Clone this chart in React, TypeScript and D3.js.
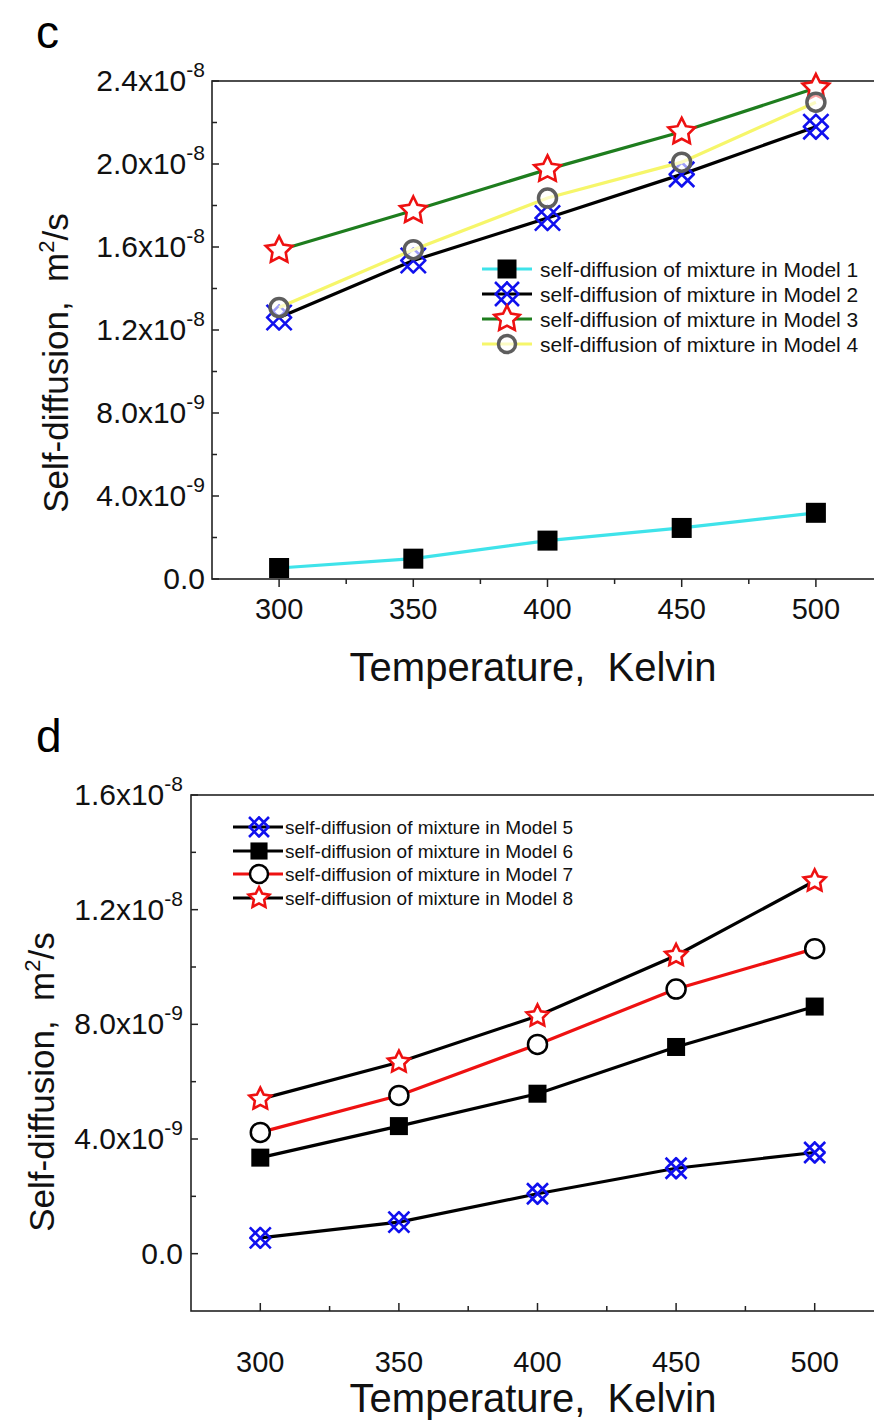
import React from 'react';
import * as d3 from 'd3';

const temps = [300, 350, 400, 450, 500];
const model1 = [0.53e-9, 0.98e-9, 1.85e-9, 2.46e-9, 3.19e-9];
const model2 = [1.26e-8, 1.535e-8, 1.74e-8, 1.95e-8, 2.18e-8];
const model3 = [1.584e-8, 1.776e-8, 1.974e-8, 2.155e-8, 2.366e-8];
const model4 = [1.308e-8, 1.587e-8, 1.836e-8, 2.009e-8, 2.298e-8];
const model5 = [0.55e-9, 1.1e-9, 2.09e-9, 2.98e-9, 3.53e-9];
const model6 = [3.35e-9, 4.45e-9, 5.58e-9, 7.21e-9, 8.62e-9];
const model7 = [4.23e-9, 5.52e-9, 7.3e-9, 9.23e-9, 10.64e-9];
const model8 = [5.39e-9, 6.68e-9, 8.29e-9, 10.4e-9, 13.0e-9];

const xTicks = [300, 350, 400, 450, 500];
const xMinor = [325, 375, 425, 475];
const yTicksC = [0, 4e-9, 8e-9, 1.2e-8, 1.6e-8, 2.0e-8, 2.4e-8];
const yMinorC = [2e-9, 6e-9, 1e-8, 1.4e-8, 1.8e-8, 2.2e-8];
const yTicksD = [0, 4e-9, 8e-9, 1.2e-8, 1.6e-8];
const yMinorD = [2e-9, 6e-9, 1e-8, 1.4e-8];

const legendC = [
  'self-diffusion of mixture in Model 1',
  'self-diffusion of mixture in Model 2',
  'self-diffusion of mixture in Model 3',
  'self-diffusion of mixture in Model 4',
];
const legendD = [
  'self-diffusion of mixture in Model 5',
  'self-diffusion of mixture in Model 6',
  'self-diffusion of mixture in Model 7',
  'self-diffusion of mixture in Model 8',
];

const FONT = "'Liberation Sans', Arial, sans-serif";

type Marker = 'square' | 'hatch' | 'star' | 'circle';
interface Series {
  values: number[];
  line: string;
  marker: Marker;
  mColor: string;
  mFill: string;
  size: number;
}

const seriesC: Series[] = [
  { values: model1, line: '#3fe3ea', marker: 'square', mColor: '#000', mFill: '#000', size: 20 },
  { values: model2, line: '#000', marker: 'hatch', mColor: '#1010ee', mFill: 'none', size: 24 },
  { values: model3, line: '#1e7d1e', marker: 'star', mColor: '#ee1111', mFill: '#fff', size: 14 },
  { values: model4, line: '#f6f66a', marker: 'circle', mColor: '#5e5e5e', mFill: 'rgba(255,255,255,0.6)', size: 9 },
];
const seriesD: Series[] = [
  { values: model5, line: '#000', marker: 'hatch', mColor: '#1010ee', mFill: 'none', size: 20 },
  { values: model6, line: '#000', marker: 'square', mColor: '#000', mFill: '#000', size: 18 },
  { values: model7, line: '#ee1111', marker: 'circle', mColor: '#000', mFill: '#fff', size: 9.5 },
  { values: model8, line: '#000', marker: 'star', mColor: '#ee1111', mFill: '#fff', size: 11.5 },
];

function starPath(R: number) {
  const r = R * 0.5;
  const pts: [number, number][] = [];
  for (let i = 0; i < 10; i++) {
    const a = -Math.PI / 2 + (i * Math.PI) / 5;
    const rr = i % 2 === 0 ? R : r;
    pts.push([rr * Math.cos(a), rr * Math.sin(a)]);
  }
  return d3.line()(pts)! + 'Z';
}

// four small crosses arranged 2x2 -> diamond lattice
function hatchPath(s: number) {
  const a = s / 4;
  const r = a * 1.1;
  const parts: string[] = [];
  for (const cx of [-a, a]) {
    for (const cy of [-a, a]) {
      parts.push(`M${cx - r},${cy - r}L${cx + r},${cy + r}`);
      parts.push(`M${cx - r},${cy + r}L${cx + r},${cy - r}`);
    }
  }
  return parts.join('');
}

function MarkerShape({ s, x, y }: { s: Series; x: number; y: number }) {
  const t = `translate(${x},${y})`;
  if (s.marker === 'square')
    return <rect transform={t} x={-s.size / 2} y={-s.size / 2} width={s.size} height={s.size} fill={s.mFill} />;
  if (s.marker === 'hatch')
    return <path transform={t} d={hatchPath(s.size)} stroke={s.mColor} strokeWidth={2.6} fill="none" />;
  if (s.marker === 'star')
    return <path transform={t} d={starPath(s.size)} stroke={s.mColor} strokeWidth={2.6} fill={s.mFill} strokeLinejoin="miter" />;
  return <circle transform={t} r={s.size} stroke={s.mColor} strokeWidth={s.mColor === '#000' ? 2.5 : 3.5} fill={s.mFill} />;
}

function fmtParts(v: number): [string, string] {
  if (v === 0) return ['0.0', ''];
  const e = Math.floor(Math.log10(v) + 1e-9);
  const m = v / Math.pow(10, e);
  return [m.toFixed(1) + 'x10', String(e)];
}

interface PanelProps {
  x: d3.ScaleLinear<number, number>;
  y: d3.ScaleLinear<number, number>;
  series: Series[];
  yTicks: number[];
  yMinor: number[];
  xTickOut: boolean;
  xLabelY: number;
  titleY: number;
  yLabelEnd: number;
  yTitleX: number;
  yTitleY: number;
  legend: string[];
  legRows: number[];
  legX0: number;
  legX1: number;
  legM: number;
  legText: number;
  legFont: number;
  letter: string;
  letterY: number;
}

function Panel(p: PanelProps) {
  const [x0, x1] = p.x.range();
  const [yb, yt] = p.y.range();
  const lineGen = d3
    .line<number>()
    .x((_, i) => p.x(temps[i]))
    .y((d) => p.y(d));
  const xt = p.xTickOut ? 1 : -1;
  return (
    <g>
      <text x={36} y={p.letterY} fontFamily={FONT} fontSize={46} fill="#000">
        {p.letter}
      </text>
      <rect x={x0} y={yt} width={x1 - x0} height={yb - yt} fill="none" stroke="#222" strokeWidth={1.6} />
      {p.yTicks.map((v) => (
        <line key={'yt' + v} x1={x0} x2={x0 + 7} y1={p.y(v)} y2={p.y(v)} stroke="#222" strokeWidth={1.5} />
      ))}
      {p.yMinor.map((v) => (
        <line key={'ym' + v} x1={x0} x2={x0 + 5} y1={p.y(v)} y2={p.y(v)} stroke="#222" strokeWidth={1.5} />
      ))}
      {xTicks.map((v) => (
        <line key={'xt' + v} x1={p.x(v)} x2={p.x(v)} y1={yb} y2={yb + xt * 8} stroke="#222" strokeWidth={1.5} />
      ))}
      {xMinor.map((v) => (
        <line key={'xm' + v} x1={p.x(v)} x2={p.x(v)} y1={yb} y2={yb + xt * 5} stroke="#222" strokeWidth={1.5} />
      ))}
      {p.yTicks.map((v) => {
        const [a, e] = fmtParts(v);
        return (
          <text key={'yl' + v} x={p.yLabelEnd} y={p.y(v) + 10} textAnchor="end" fontFamily={FONT} fontSize={30} fill="#111">
            {a}
            {e && (
              <tspan fontSize={21} dy={-14}>
                {e}
              </tspan>
            )}
          </text>
        );
      })}
      {xTicks.map((v) => (
        <text key={'xl' + v} x={p.x(v)} y={p.xLabelY} textAnchor="middle" fontFamily={FONT} fontSize={29} fill="#111">
          {v}
        </text>
      ))}
      <text x={533} y={p.titleY} textAnchor="middle" fontFamily={FONT} fontSize={40} fill="#111">
        {'Temperature,\u00a0 Kelvin'}
      </text>
      <text
        transform={`translate(${p.yTitleX},${p.yTitleY}) rotate(-90)`}
        textAnchor="middle"
        fontFamily={FONT}
        fontSize={35}
        fill="#111"
      >
        {'Self-diffusion,\u00a0 m'}
        <tspan fontSize={22} dy={-14}>
          2
        </tspan>
        <tspan dy={14}>/s</tspan>
      </text>
      {p.series.map((s, k) => (
        <g key={'s' + k}>
          <path d={lineGen(s.values)!} fill="none" stroke={s.line} strokeWidth={3.2} />
          {s.values.map((v, i) => (
            <MarkerShape key={i} s={s} x={p.x(temps[i])} y={p.y(v)} />
          ))}
        </g>
      ))}
      {p.legend.map((lab, k) => {
        const s = p.series[k];
        const yy = p.legRows[k];
        return (
          <g key={'lg' + k}>
            <line x1={p.legX0} x2={p.legX1} y1={yy} y2={yy} stroke={s.line} strokeWidth={3.2} />
            <MarkerShape s={{ ...s, size: s.size * 0.95 }} x={p.legM} y={yy} />
            <text x={p.legText} y={yy + p.legFont * 0.36} fontFamily={FONT} fontSize={p.legFont} fill="#111">
              {lab}
            </text>
          </g>
        );
      })}
    </g>
  );
}

export default function App() {
  const xC = d3.scaleLinear().domain([275, 525]).range([212, 883]);
  const yC = d3.scaleLinear().domain([0, 2.4e-8]).range([579, 81]);
  const xD = d3.scaleLinear().domain([275, 525]).range([191, 884]);
  const yD = d3.scaleLinear().domain([-2e-9, 1.6e-8]).range([1311, 795]);
  return (
    <svg
      width={874}
      height={1421}
      style={{ position: 'absolute', left: 0, top: 0, background: '#fff' }}
    >
      <rect x={0} y={0} width={874} height={1421} fill="#fff" />
      <Panel
        x={xC}
        y={yC}
        series={seriesC}
        yTicks={yTicksC}
        yMinor={yMinorC}
        xTickOut={true}
        xLabelY={619}
        titleY={681}
        yLabelEnd={205}
        yTitleX={68}
        yTitleY={363}
        legend={legendC}
        legRows={[269, 294, 319, 344]}
        legX0={482}
        legX1={532}
        legM={507}
        legText={540}
        legFont={21}
        letter="c"
        letterY={48}
      />
      <Panel
        x={xD}
        y={yD}
        series={seriesD}
        yTicks={yTicksD}
        yMinor={yMinorD}
        xTickOut={false}
        xLabelY={1372}
        titleY={1412}
        yLabelEnd={183}
        yTitleX={54}
        yTitleY={1082}
        legend={legendD}
        legRows={[827, 851, 874, 898]}
        legX0={233}
        legX1={283}
        legM={259}
        legText={285}
        legFont={19}
        letter="d"
        letterY={752}
      />
    </svg>
  );
}
